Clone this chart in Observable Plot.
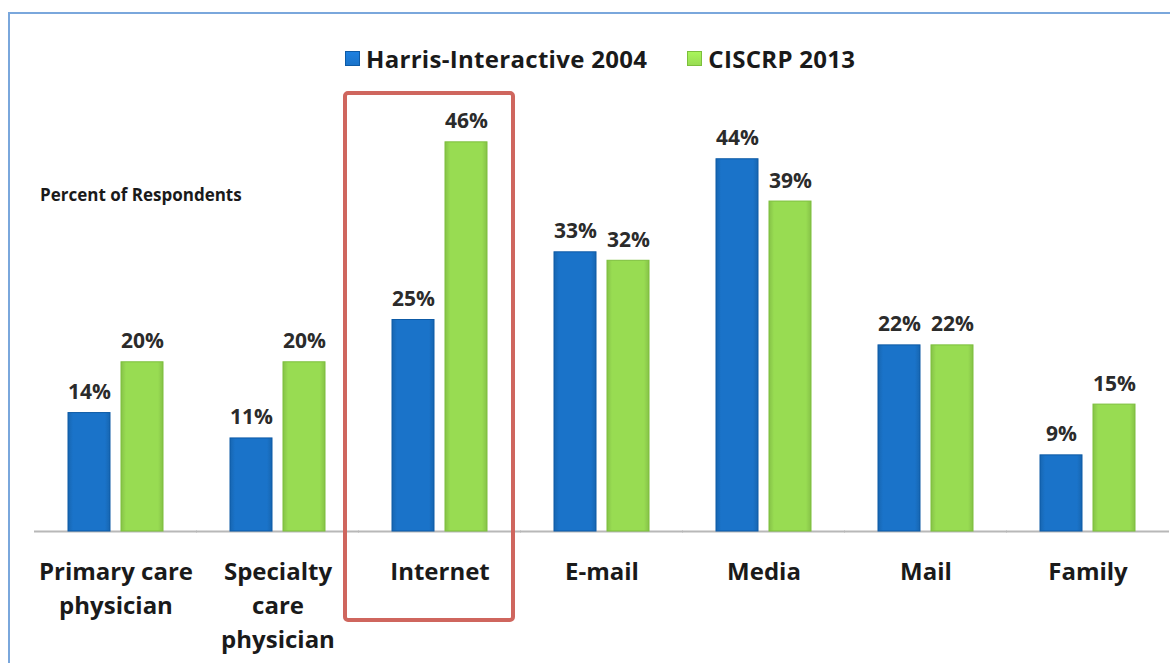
<!DOCTYPE html>
<html>
<head>
<meta charset="utf-8">
<script src="https://cdn.jsdelivr.net/npm/d3@7"></script>
<script src="https://cdn.jsdelivr.net/npm/@observablehq/plot@0.6"></script>
<style>
  html, body { margin: 0; padding: 0; background: #fff; }
  #wrap { position: relative; width: 1170px; height: 663px; overflow: hidden; font-family: "Open Sans", sans-serif; }
  #border { position: absolute; left: 8px; top: 12px; width: 1200px; height: 700px; border: 2px solid #7aa7dc; box-sizing: border-box; }
  #legend { position: absolute; left: 345px; top: 42px; display: flex; align-items: center; font-weight: 700; font-size: 24px; color: #1a1a1a; white-space: nowrap; letter-spacing: 0.3px; }
  #legend .item { display: flex; align-items: center; margin-right: 40px; }
  #legend .sw { width: 13px; height: 13px; margin-right: 6px; }
  #ylabel { position: absolute; left: 40px; top: 183px; font-weight: 700; font-size: 17px; color: #1a1a1a; }
  #chart { position: absolute; left: 0; top: 0; }
  #chart svg text { font-family: "Open Sans", sans-serif; }
</style>
</head>
<body>
<div id="wrap">
  <div id="border"></div>
  <div id="chart"></div>
  <div id="legend"></div>
  <div id="ylabel">Percent of Respondents</div>
</div>
<script>
// ---- data ----
const categories = ["Primary care physician", "Specialty care physician", "Internet", "E-mail", "Media", "Mail", "Family"];
const categoryLabels = ["Primary care\nphysician", "Specialty\ncare\nphysician", "Internet", "E-mail", "Media", "Mail", "Family"];
const seriesNames = ["Harris-Interactive 2004", "CISCRP 2013"];
const harris2004 = [14, 11, 25, 33, 44, 22, 9];
const ciscrp2013 = [20, 20, 46, 32, 39, 22, 15];
const highlighted = ["Internet"];
const seriesColors = ["#1a73c9", "#98dc52"];
const seriesEdge = ["#0d5aa6", "#7cbf3c"];

// ---- table ----
const rows = [];
categories.forEach((c, i) => {
  rows.push({cat: c, series: seriesNames[0], value: harris2004[i]});
  rows.push({cat: c, series: seriesNames[1], value: ciscrp2013[i]});
});
const labelOf = new Map(categories.map((c, i) => [c, categoryLabels[i]]));

const gradIds = ["gradS0", "gradS1"];

const plot = Plot.plot({
  width: 1170,
  height: 663,
  marginLeft: 33,
  marginRight: 0,
  marginTop: 108,
  marginBottom: 132,
  style: {background: "transparent", overflow: "visible"},
  fx: {domain: categories, paddingInner: 0.4, paddingOuter: 0.2, label: null},
  x: {domain: seriesNames, paddingInner: 0.2, paddingOuter: 0, axis: null},
  y: {domain: [0, 50], axis: null},
  marks: [
    Plot.ruleY([0], {stroke: "#b8b8b8", strokeWidth: 2, insetLeft: -33, insetRight: -33}),
    ...seriesNames.map((s, k) =>
      Plot.barY(rows.filter(d => d.series === s), {
        fx: "cat", x: "series", y: "value",
        fill: `url(#${gradIds[k]})`, stroke: seriesEdge[k], strokeWidth: 1
      })
    ),
    Plot.text(rows, {
      fx: "cat", x: "series", y: "value",
      text: d => d.value + "%",
      dy: -14, lineAnchor: "bottom",
      fontSize: 21, fontWeight: 700, fill: "#2b2b2b"
    }),
    Plot.rect(highlighted, {
      fx: d => d,
      fill: "none", stroke: "#cf665e", strokeWidth: 4, rx: 3,
      insetTop: -15, insetBottom: -89, insetLeft: -46, insetRight: -25
    }),
    Plot.axisFx({
      anchor: "bottom", tickSize: 0, tickPadding: 25,
      tickFormat: d => labelOf.get(d),
      fontSize: 24, fontWeight: 700, fill: "#1a1a1a", lineHeight: 1.4,
      textOverflow: null, label: null
    })
  ]
});

// gradients for a subtle bevelled look
const defs = d3.create("svg:defs");
seriesColors.forEach((c, k) => {
  const g = defs.append("linearGradient").attr("id", gradIds[k]).attr("x1", 0).attr("x2", 1).attr("y1", 0).attr("y2", 0);
  const base = d3.color(c);
  g.append("stop").attr("offset", "0%").attr("stop-color", base.darker(0.35));
  g.append("stop").attr("offset", "12%").attr("stop-color", c);
  g.append("stop").attr("offset", "88%").attr("stop-color", c);
  g.append("stop").attr("offset", "100%").attr("stop-color", base.darker(0.35));
});
plot.insertBefore(defs.node(), plot.firstChild);

document.getElementById("chart").appendChild(plot);

// legend
const legend = d3.select("#legend");
seriesNames.forEach((s, k) => {
  const it = legend.append("div").attr("class", "item");
  it.append("div").attr("class", "sw")
    .style("background", `linear-gradient(${d3.color(seriesColors[k]).brighter(0.3)}, ${seriesColors[k]})`)
    .style("border", `1px solid ${seriesEdge[k]}`);
  it.append("span").text(s);
});
</script>
</body>
</html>
